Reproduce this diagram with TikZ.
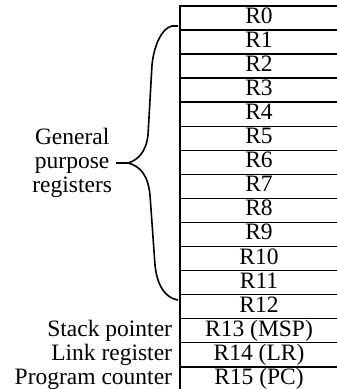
\documentclass[tikz,border=0pt]{standalone}
\usepackage{fontspec}
\setmainfont{Liberation Serif}
\usetikzlibrary{positioning}

\tikzset{
    reg/.style={draw,line width=1.5pt,minimum width=158pt,minimum height=24.05pt,
        inner sep=0pt,outer sep=0pt,text height=15pt,text depth=4pt,
        font=\fontsize{23.5}{24}\selectfont},
    lbl/.style={inner sep=0pt,outer sep=0pt,text height=15pt,text depth=4pt,
        font=\fontsize{23.5}{24}\selectfont},
}

\begin{document}
\begin{tikzpicture}[x=1pt,y=-1pt]
    \useasboundingbox (0,0) rectangle (337,389);

    % register file
    \node[reg,anchor=north west] (r0) at (180,6) {R0};
    \foreach \i [remember=\i as \p (initially 0)] in {1,...,12}
        \node[reg,below=0pt of r\p] (r\i) {R\i};
    \node[reg,below=0pt of r12] (r13) {R13 (MSP)};
    \node[reg,below=0pt of r13] (r14) {R14 (LR)};
    \node[reg,below=0pt of r14] (r15) {R15 (PC)};

    % special registers
    \node[lbl,anchor=east,left=8pt of r13] (sp) {Stack pointer};
    \node[lbl,anchor=east,left=8pt of r14] (lr) {Link register};
    \node[lbl,anchor=east,left=8pt of r15] (pc) {Program counter};

    % brace over R0..R11
    \coordinate (btop) at (178,26);
    \coordinate (bbot) at (178,300);
    \coordinate (btip) at (116,163);
    \draw[line width=1.6pt]
        (btop) -- (172,26) .. controls (162,28) and (154,45) .. (152,65)
        -- (148,135) .. controls (146,152) and (138,160) .. (128,163)
        .. controls (140,166) and (148,175) .. (150,195)
        -- (155,265) .. controls (157,285) and (165,298) .. (bbot);
    \draw[line width=1.6pt] (128,163) -- (btip);
    \node[lbl,anchor=east,align=center,text height=,text depth=] (gpr)
        at ([xshift=-4pt]btip) {General\\purpose\\registers};
\end{tikzpicture}
\end{document}
